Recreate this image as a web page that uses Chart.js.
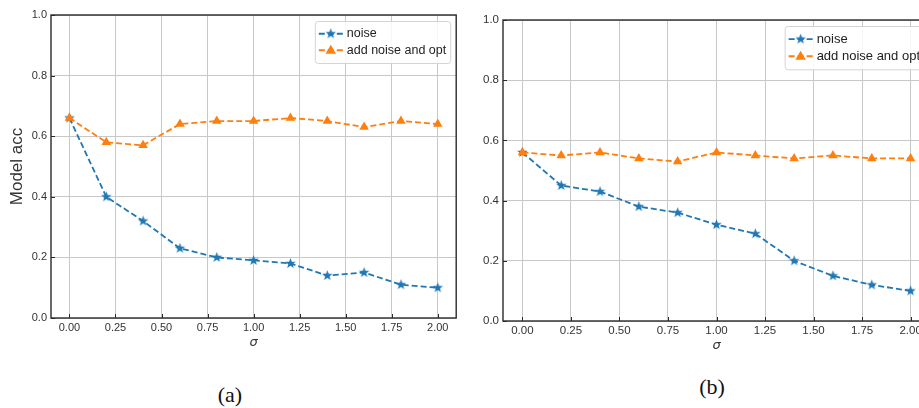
<!DOCTYPE html>
<html>
<head>
<meta charset="utf-8">
<script src="https://cdn.jsdelivr.net/npm/chart.js@4.4.1/dist/chart.umd.min.js"></script>
<style>
  html, body { margin: 0; padding: 0; background: #fff; overflow: hidden; width: 919px; height: 408px; }
  canvas { position: absolute; top: 0; }
  .cap {
    position: absolute; width: 60px; text-align: center; line-height: 22px;
    font-family: 'Liberation Serif', 'Times New Roman', serif; font-size: 22px; color: #111;
  }
</style>
</head>
<body>
<canvas id="chartA" width="462" height="360" style="left:0"></canvas>
<canvas id="chartB" width="480" height="360" style="left:460px"></canvas>
<div class="cap" style="left:200px; top:384px">(a)</div>
<div class="cap" style="left:682px; top:376px">(b)</div>
<script>
// sigma values on the x axis
const sigma = [0, 0.2, 0.4, 0.6, 0.8, 1.0, 1.2, 1.4, 1.6, 1.8, 2.0];

// panel (a)
const noiseA = [0.66, 0.40, 0.32, 0.23, 0.20, 0.19, 0.18, 0.14, 0.15, 0.11, 0.10];
const optA = [0.66, 0.58, 0.57, 0.64, 0.65, 0.65, 0.66, 0.65, 0.63, 0.65, 0.64];

// panel (b)
const noiseB = [0.56, 0.45, 0.43, 0.38, 0.36, 0.32, 0.29, 0.20, 0.15, 0.12, 0.10];
const optB = [0.56, 0.55, 0.56, 0.54, 0.53, 0.56, 0.55, 0.54, 0.55, 0.54, 0.54];

const seriesNames = ['noise', 'add noise and opt'];
const xTicks = [0, 0.25, 0.5, 0.75, 1, 1.25, 1.5, 1.75, 2];
const xTickLabels = ['0.00', '0.25', '0.50', '0.75', '1.00', '1.25', '1.50', '1.75', '2.00'];
const yTicks = [0, 0.2, 0.4, 0.6, 0.8, 1.0];
const yTickLabels = ['0.0', '0.2', '0.4', '0.6', '0.8', '1.0'];

const BLUE = '#1f77b4';
const ORANGE = '#ff7f0e';
const SANS = "'Liberation Sans', Arial, sans-serif";
const DASH = [6, 3];

// filled five-point star, like the matplotlib '*' marker
const makeStar = (color, r) => {
  const c = document.createElement('canvas');
  const s = Math.ceil(r * 2) + 2;
  c.width = c.height = s;
  const g = c.getContext('2d');
  g.fillStyle = color;
  g.beginPath();
  for (let i = 0; i < 10; i++) {
    const rad = i % 2 ? r * 0.42 : r;
    const a = -Math.PI / 2 + (i * Math.PI) / 5;
    g.lineTo(s / 2 + rad * Math.cos(a), s / 2 + rad * Math.sin(a));
  }
  g.closePath();
  g.fill();
  return c;
};
const star = makeStar(BLUE, 5.5);

const drawTriangle = (ctx, x, y, r, color) => {
  ctx.fillStyle = color;
  ctx.beginPath();
  ctx.moveTo(x, y - r);
  ctx.lineTo(x + r * 0.95, y + r * 0.65);
  ctx.lineTo(x - r * 0.95, y + r * 0.65);
  ctx.closePath();
  ctx.fill();
};

// frame, inward ticks and the legend box
const framePlugin = {
  id: 'frame',
  beforeDatasetsDraw(chart) {
    const { ctx, chartArea: a, scales } = chart;
    ctx.save();
    ctx.strokeStyle = '#2a2a2a';
    ctx.lineWidth = 1.4;
    ctx.strokeRect(a.left, a.top, a.right - a.left, a.bottom - a.top);
    ctx.lineWidth = 1;
    ctx.beginPath();
    xTicks.forEach(v => {
      const px = Math.round(scales.x.getPixelForValue(v)) + 0.5;
      ctx.moveTo(px, a.bottom);
      ctx.lineTo(px, a.bottom - 4);
    });
    yTicks.forEach(v => {
      const py = Math.round(scales.y.getPixelForValue(v)) + 0.5;
      ctx.moveTo(a.left, py);
      ctx.lineTo(a.left + 4, py);
    });
    ctx.stroke();
    ctx.restore();
  },
  afterDraw(chart, args, opts) {
    const { ctx, chartArea: a } = chart;
    const fs = opts.fontSize;
    ctx.save();
    ctx.font = fs + 'px ' + SANS;
    const tw = Math.max(...seriesNames.map(n => ctx.measureText(n).width));
    const rowH = fs * 1.32;
    const w = 4 + 24 + 4 + tw + 4;
    const h = rowH * 2 + 9;
    const x0 = a.right - 6 - w;
    const y0 = a.top + 6;
    ctx.fillStyle = 'rgba(255,255,255,0.85)';
    ctx.strokeStyle = '#d4d4d4';
    ctx.lineWidth = 1;
    ctx.beginPath();
    ctx.roundRect(x0 + 0.5, y0 + 0.5, w, h, 3);
    ctx.fill();
    ctx.stroke();
    const colors = [BLUE, ORANGE];
    seriesNames.forEach((name, i) => {
      const cy = y0 + 4.5 + rowH * (i + 0.5);
      const lx = x0 + 4;
      ctx.strokeStyle = colors[i];
      ctx.lineWidth = 1.8;
      ctx.setLineDash(DASH);
      ctx.beginPath();
      ctx.moveTo(lx, cy);
      ctx.lineTo(lx + 24, cy);
      ctx.stroke();
      ctx.setLineDash([]);
      if (i === 0) ctx.drawImage(star, lx + 12 - star.width / 2, cy - star.height / 2);
      else drawTriangle(ctx, lx + 12, cy, 5.5, ORANGE);
      ctx.fillStyle = '#222';
      ctx.textBaseline = 'middle';
      ctx.fillText(name, lx + 28, cy);
    });
    ctx.restore();
  },
};

function makeChart(id, noise, opt, cfg) {
  return new Chart(document.getElementById(id), {
    type: 'line',
    data: {
      datasets: [
        {
          label: seriesNames[0],
          data: sigma.map((x, i) => ({ x, y: noise[i] })),
          borderColor: BLUE,
          backgroundColor: BLUE,
          borderWidth: 1.8,
          borderDash: DASH,
          pointStyle: star,
          order: 1,
        },
        {
          label: seriesNames[1],
          data: sigma.map((x, i) => ({ x, y: opt[i] })),
          borderColor: ORANGE,
          backgroundColor: ORANGE,
          borderWidth: 1.8,
          borderDash: DASH,
          pointStyle: 'triangle',
          pointRadius: 5.5,
          pointBorderWidth: 0,
          order: 0,
        },
      ],
    },
    options: {
      responsive: false,
      animation: false,
      devicePixelRatio: 1,
      layout: { padding: { top: cfg.padTop, right: cfg.padRight, left: 0, bottom: 0 } },
      plugins: {
        legend: { display: false },
        tooltip: { enabled: false },
        frame: { fontSize: cfg.legendFont },
      },
      scales: {
        x: {
          type: 'linear',
          min: -0.1,
          max: 2.1,
          afterBuildTicks: s => { s.ticks = xTicks.map(v => ({ value: v })); },
          afterFit: s => { s.height = cfg.xHeight; },
          grid: { color: '#c8c8c8', lineWidth: 1, drawTicks: false },
          border: { display: false },
          ticks: {
            autoSkip: false,
            maxRotation: 0,
            padding: 3,
            color: '#333',
            font: { family: SANS, size: cfg.tickFont },
            callback: v => xTickLabels[xTicks.indexOf(v)],
          },
          title: {
            display: true,
            text: 'σ',
            color: '#333',
            font: { family: "'DejaVu Sans', sans-serif", size: 13, style: 'italic' },
            padding: { top: 0, bottom: cfg.xTitlePad },
          },
        },
        y: {
          min: 0,
          max: 1,
          afterBuildTicks: s => { s.ticks = yTicks.map(v => ({ value: v })); },
          afterFit: s => { s.width = cfg.yWidth; },
          grid: { color: '#c8c8c8', lineWidth: 1, drawTicks: false },
          border: { display: false },
          ticks: {
            padding: 4,
            color: '#333',
            font: { family: SANS, size: cfg.tickFont },
            callback: v => yTickLabels[yTicks.indexOf(v)],
          },
          title: {
            display: Boolean(cfg.yTitle),
            text: cfg.yTitle || '',
            color: '#333',
            font: { family: SANS, size: 17 },
            padding: { top: 7, bottom: 0 },
          },
        },
      },
    },
    plugins: [framePlugin],
  });
}

makeChart('chartA', noiseA, optA, {
  padTop: 15, padRight: 3, yWidth: 51, xHeight: 42, xTitlePad: 10,
  tickFont: 11, legendFont: 12.5, yTitle: 'Model acc',
});
makeChart('chartB', noiseB, optB, {
  padTop: 20, padRight: 10, yWidth: 43, xHeight: 39, xTitlePad: 7,
  tickFont: 11.5, legendFont: 13, yTitle: null,
});
</script>
</body>
</html>
